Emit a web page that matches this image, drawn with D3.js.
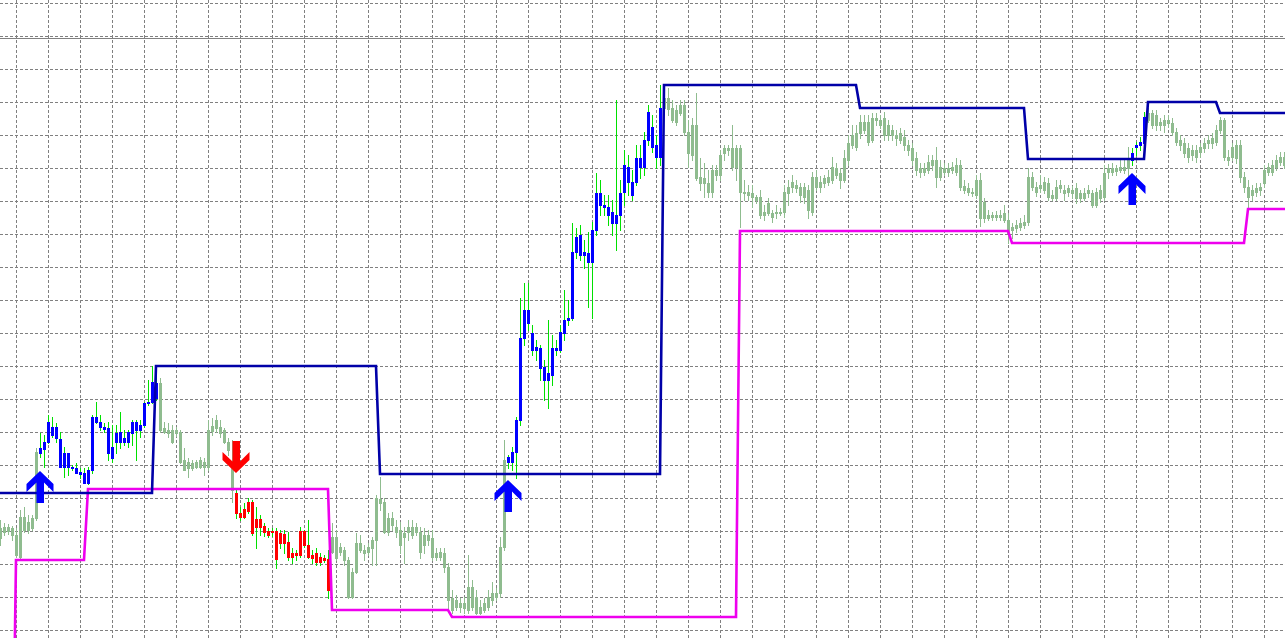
<!DOCTYPE html>
<html>
<head>
<meta charset="utf-8">
<style>
	html, body { margin: 0; padding: 0; background: #fff; overflow: hidden; }
	svg { display: block; }
</style>
<script src="https://cdn.jsdelivr.net/npm/d3@7"></script>
</head>
<body>
<svg id="chart" width="1285" height="638"></svg>
<script>
// all prices are in points (1 point = 0.0001) above 1.3000

const open = [
	112,108,113,112,105,83,123,118,112,122, 187,191,198,213,213,201,187,173,173,172,
	168,167,157,170,223,218,213,212,193,198, 198,202,198,207,218,215,215,237,238,257,
	257,212,210,210,207,208,180,172,177,173, 173,178,173,209,212,213,210,198,178,147,
	127,123,129,138,121,113,114,109,108,109, 97,106,98,87,85,85,109,95,85,87,
	78,82,81,88,103,88,90,80,43,68, 97,90,88,92,100,141,138,108,122,113,
	110,103,108,113,108,108,95,105,102,87, 83,87,73,42,33,37,37,30,53,43,
	27,30,33,40,47,47,93,178,178,188, 220,302,330,307,293,292,273,260,265,292,
	290,307,320,322,388,405,388,387,378,410, 447,435,433,428,417,425,448,473,458,458,
	482,473,500,513,495,483,532,542,532,518, 527,535,508,485,515,463,457,457,448,470,
	465,487,492,492,473,492,448,445,447,443, 443,425,427,427,427,428,428,447,453,455,
	453,443,450,428,463,458,457,458,460,472, 467,460,480,495,507,507,518,518,500,520,
	520,522,505,510,505,500,503,495,492,482, 472,468,470,475,480,463,472,468,470,475,
	475,454,452,448,445,460,422,425,423,425, 423,427,420,410,412,413,415,418,463,453,
	452,450,457,445,442,452,450,448,450,452, 442,447,447,447,435,442,443,472,468,472,
	470,473,472,480,493,495,497,520,527,515, 518,515,520,517,508,500,497,492,485,490,
	488,492,497,502,498,510,520,480,483,495, 495,463,453,445,448,450,457,468,475,473,
	478,483
];
const high = [
	120,117,116,114,112,130,133,125,125,192, 207,205,225,223,217,208,193,187,175,177,
	172,172,173,225,238,225,217,218,215,215, 228,210,210,220,220,220,238,260,274,270,
	262,218,217,215,213,210,192,182,180,180, 183,182,220,222,225,220,212,202,200,150,
	133,137,142,140,133,125,117,112,112,112, 110,110,108,92,90,113,110,120,90,92,
	87,85,90,117,110,97,93,83,72,107, 105,95,97,103,145,163,142,127,128,120,
	118,113,120,120,117,113,112,110,110,92, 92,92,77,50,45,42,43,85,60,50,
	40,42,50,58,52,103,200,185,193,223, 342,357,357,315,300,295,280,320,305,300,
	315,350,340,417,412,415,400,408,418,467, 460,445,445,440,540,460,490,485,470,495,
	495,508,535,525,505,555,552,552,540,535, 540,540,520,522,547,482,477,470,475,475,
	490,495,495,515,495,495,460,455,455,445, 450,435,442,430,435,432,455,460,465,460,
	457,457,455,468,470,464,465,470,483,477, 472,490,505,515,515,525,525,525,527,527,
	525,528,520,515,510,512,510,500,497,488, 477,477,485,485,493,480,477,477,478,482,
	480,460,457,452,465,467,442,430,428,429, 430,435,427,417,420,422,425,472,468,458,
	465,463,462,450,460,460,455,455,454,457, 450,452,455,450,452,455,475,476,477,475,
	480,480,493,492,498,503,528,532,530,530, 522,525,525,522,512,505,502,497,495,495,
	497,502,505,507,515,523,522,490,497,500, 500,468,460,455,457,457,475,477,480,485,
	488,488
];
const low = [
	95,105,106,100,83,82,108,107,110,120, 183,173,197,203,198,173,163,165,170,167,
	162,157,156,167,217,210,208,180,178,187, 192,195,193,195,180,203,213,235,237,240,
	208,207,203,197,204,177,170,163,170,172, 172,165,170,205,208,203,197,185,138,122,
	120,122,127,105,92,105,104,103,104,72, 92,87,80,77,80,83,93,82,77,75,
	75,78,42,87,80,85,75,42,42,67, 88,80,85,75,75,130,107,105,110,103,
	87,77,100,102,105,82,87,95,80,80, 80,68,28,27,30,28,27,27,30,26,
	26,28,30,35,40,43,90,172,170,162, 215,295,310,285,280,260,240,232,255,285,
	288,300,315,320,382,380,372,333,322,405, 425,425,415,405,390,410,435,445,440,455,
	462,465,495,488,472,475,527,525,518,515, 525,505,473,480,460,450,443,443,443,460,
	460,480,485,470,460,413,440,440,433,437, 422,420,425,418,422,425,423,435,448,448,
	438,437,422,425,450,448,453,455,457,462, 452,458,475,492,490,502,507,495,498,515,
	512,500,500,500,495,497,490,485,475,465, 463,465,467,470,453,460,465,464,467,465,
	450,447,445,444,442,414,418,420,420,420, 420,418,397,402,408,410,412,415,450,444,
	448,447,440,440,440,448,440,444,442,437, 438,440,443,433,433,438,440,462,465,465,
	468,467,462,475,485,490,495,518,512,510, 510,508,513,505,495,490,483,478,480,478,
	483,488,492,492,495,507,480,475,480,477, 458,448,433,440,444,445,453,465,465,470,
	475,472
];
const close = [
	102,113,109,105,85,123,110,110,122,188, 192,198,218,205,202,173,173,187,172,167,
	166,157,170,223,218,213,211,187,182,207, 208,198,208,218,210,210,237,238,258,242,
	210,208,207,198,210,178,170,178,172,178, 180,173,210,214,220,207,198,190,150,127,
	123,131,138,107,113,121,108,105,109,81, 107,97,83,83,87,109,95,83,82,78,
	83,80,50,103,82,93,80,43,68,97, 90,87,93,100,142,137,108,122,115,108,
	95,107,113,105,113,88,105,100,83,83, 88,73,40,30,40,33,32,53,33,27,
	33,37,43,47,43,93,180,183,188,220, 302,330,317,290,290,272,260,267,292,290,
	308,320,322,388,403,385,385,378,410,447, 435,433,425,417,425,447,475,458,445,482,
	473,500,528,493,483,532,542,531,520,530, 535,508,487,515,462,457,462,448,470,465,
	485,492,490,473,492,448,447,448,443,440, 425,428,437,423,428,427,448,453,458,452,
	445,453,430,463,453,453,462,463,473,465, 460,482,497,505,493,518,510,498,522,522,
	515,505,515,505,502,507,495,490,480,470, 468,472,478,480,463,473,468,472,473,468,
	453,450,448,447,460,422,438,422,425,423, 425,420,407,413,415,417,418,463,453,448,
	455,458,443,442,453,455,447,452,447,442, 447,442,450,435,448,450,467,468,472,469,
	473,470,480,487,495,498,523,527,515,525, 515,520,517,508,498,495,487,483,490,483,
	493,497,500,497,510,520,483,483,493,482, 463,453,443,450,452,453,470,473,468,480,
	483,475
];

// bars painted by the trend filter: [first bar, last bar]
const upTrendBars = [[10, 39], [127, 165], [283, 286]];
const downTrendBars = [[59, 82]];

// channel levels: [bar where the level starts, level]
const upperSteps = [[0, 147], [39, 274], [95, 166], [166, 555], [215, 532], [257, 481], [287, 538], [305, 527]];
const lowerSteps = [[3, -200], [4, 80], [22, 151], [83, 30], [113, 23], [185, 409], [253, 397], [312, 431]];

// signal arrows: [bar, price at arrow tip]
const buyArrows = [[10, 169], [127, 160], [283, 467]];
const sellArrows = [[59, 167]];

const priceLevel = 602;

//=====================================================================

const svg = d3.select('#chart');
const W = 1285, H = 638;
const barSpacing = 4;

const x = d3.scaleLinear().domain([0, 1]).range([0, barSpacing]);
const y = d3.scaleLinear().domain([0, 640]).range([640, 0]);
const py = v => Math.round(y(v));

svg.append('rect').attr('width', W).attr('height', H).attr('fill', '#fff');

// grid
const grid = svg.append('g')
	.attr('stroke', '#808080')
	.attr('stroke-width', 1)
	.attr('stroke-dasharray', '3,2')
	.attr('shape-rendering', 'crispEdges');
for (let gy = 3; gy < H; gy += 33) {
	grid.append('line').attr('x1', 0).attr('x2', W).attr('y1', gy + 0.5).attr('y2', gy + 0.5);
}
for (let gx = 16; gx < W; gx += 32) {
	grid.append('line').attr('x1', gx + 0.5).attr('x2', gx + 0.5).attr('y1', 0).attr('y2', H);
}

svg.append('line')
	.attr('x1', 0).attr('x2', W)
	.attr('y1', py(priceLevel) + 0.5).attr('y2', py(priceLevel) + 0.5)
	.attr('stroke', '#808080')
	.attr('shape-rendering', 'crispEdges');

// candles
const inRanges = (i, ranges) => ranges.some(r => i >= r[0] && i <= r[1]);
const bars = open.map((o, i) => ({
	i,
	o,
	h: high[i],
	l: low[i],
	c: close[i],
	trend: inRanges(i, upTrendBars) ? 'up' : inRanges(i, downTrendBars) ? 'down' : 'flat'
}));
const bodyColor = {flat: '#8fbc8f', up: '#0000ff', down: '#ff0000'};
const wickColor = {flat: '#8fbc8f', up: '#00e000', down: '#00e000'};

const candles = svg.append('g').attr('shape-rendering', 'crispEdges');
candles.selectAll('rect.wick')
	.data(bars)
	.enter()
	.append('rect')
	.attr('class', 'wick')
	.attr('x', d => Math.round(x(d.i)))
	.attr('width', 1)
	.attr('y', d => py(d.h))
	.attr('height', d => py(d.l) - py(d.h) + 1)
	.attr('fill', d => wickColor[d.trend]);
candles.selectAll('rect.body')
	.data(bars)
	.enter()
	.append('rect')
	.attr('class', 'body')
	.attr('x', d => Math.round(x(d.i)) - 1)
	.attr('width', 3)
	.attr('y', d => py(Math.max(d.o, d.c)))
	.attr('height', d => py(Math.min(d.o, d.c)) - py(Math.max(d.o, d.c)) + 1)
	.attr('fill', d => bodyColor[d.trend]);

// channel lines
function stepPoints(steps, lastBar) {
	const pts = [];
	steps.forEach((s, k) => {
		const end = k < steps.length - 1 ? steps[k + 1][0] - 1 : lastBar;
		pts.push([s[0], s[1]]);
		if (end > s[0]) pts.push([end, s[1]]);
	});
	return pts;
}
const line = d3.line().x(d => x(d[0])).y(d => py(d[1]));
const lastBar = open.length;

svg.append('path')
	.attr('d', line(stepPoints(lowerSteps, lastBar)))
	.attr('fill', 'none')
	.attr('stroke', '#ee00ee')
	.attr('stroke-width', 2.6);
svg.append('path')
	.attr('d', line(stepPoints(upperSteps, lastBar)))
	.attr('fill', 'none')
	.attr('stroke', '#0000a8')
	.attr('stroke-width', 2.6);

// arrows (tip at 0,0 pointing up)
const arrowShape = [[0, 0], [13.5, 13], [13.5, 21], [4, 11.5], [4, 32], [-3.5, 32], [-3.5, 11.5], [-13.5, 21], [-13.5, 13]];
const arrowPath = d3.line()(arrowShape) + 'Z';

svg.selectAll('path.buy')
	.data(buyArrows)
	.enter()
	.append('path')
	.attr('class', 'buy')
	.attr('d', arrowPath)
	.attr('transform', d => `translate(${x(d[0])},${py(d[1])})`)
	.attr('fill', '#0000ff');
svg.selectAll('path.sell')
	.data(sellArrows)
	.enter()
	.append('path')
	.attr('class', 'sell')
	.attr('d', arrowPath)
	.attr('transform', d => `translate(${x(d[0])},${py(d[1])}) scale(1,-1)`)
	.attr('fill', '#ff0000');
</script>
</body>
</html>
